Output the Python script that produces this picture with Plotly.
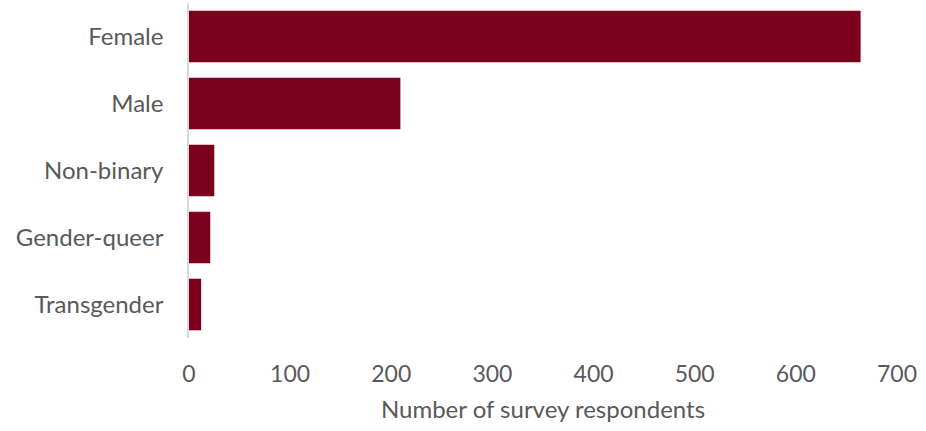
import plotly.graph_objects as go

categories = ["Female", "Male", "Non-binary", "Gender-queer", "Transgender"]
values = [664, 209, 25, 21, 12]
x_ticks = [0, 100, 200, 300, 400, 500, 600, 700]

fig = go.Figure(go.Bar(
    y=categories, x=values, orientation="h",
    marker=dict(color="#7A001B", line=dict(width=0)),
    width=0.77,
))

fig.update_layout(
    width=926, height=431,
    margin=dict(l=189, r=29, t=3, b=93),
    plot_bgcolor="white", paper_bgcolor="white",
    font=dict(family="Lato", size=24, color="#595959"),
    showlegend=False,
)
fig.update_xaxes(
    range=[0, 700], tickvals=x_ticks, showgrid=False, zeroline=False,
    showline=False, ticks="", ticklabelstandoff=20,
    title=dict(text="Number of survey respondents", standoff=15,
               font=dict(size=24, color="#595959")),
    tickfont=dict(size=23, color="#595959"),
)
fig.update_yaxes(
    categoryorder="array", categoryarray=categories[::-1],
    showgrid=False, zeroline=False, showline=True, linecolor="#D9D9D9",
    linewidth=1.5, ticks="", ticklabelstandoff=19,
    tickfont=dict(size=24, color="#595959"),
)

fig.write_html("out.html")
